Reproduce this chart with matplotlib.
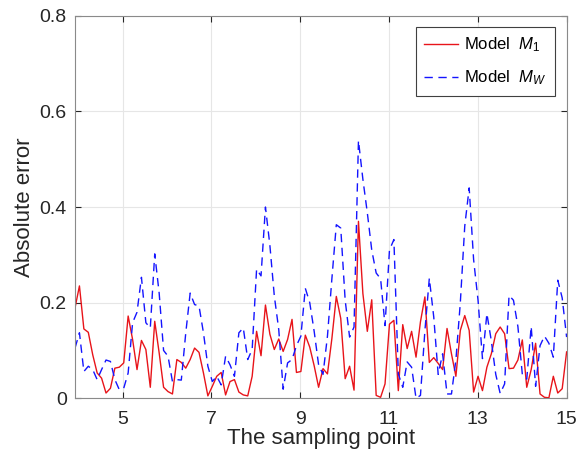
import numpy as np
import matplotlib
matplotlib.use("Agg")
import matplotlib.pyplot as plt

plt.rcParams['font.family'] = ['Liberation Sans', 'DejaVu Sans']
plt.rcParams['mathtext.fontset'] = 'custom'
plt.rcParams['mathtext.rm'] = 'Liberation Sans'
plt.rcParams['mathtext.it'] = 'Liberation Sans:italic'

# sampling points run from about 3.93 up to 15
x_first = 3.93
x_last = 15.0

err_m1 = [0.189, 0.235, 0.145, 0.138, 0.091, 0.053, 0.042, 0.011, 0.021, 0.063,
          0.065, 0.074, 0.172, 0.123, 0.060, 0.121, 0.102, 0.023, 0.161, 0.095,
          0.023, 0.014, 0.009, 0.081, 0.075, 0.063, 0.081, 0.105, 0.096, 0.053,
          0.005, 0.025, 0.046, 0.054, 0.007, 0.035, 0.039, 0.013, 0.007, 0.005,
          0.046, 0.140, 0.089, 0.195, 0.134, 0.102, 0.124, 0.098, 0.123, 0.165,
          0.054, 0.056, 0.132, 0.107, 0.068, 0.023, 0.062, 0.051, 0.125, 0.213,
          0.167, 0.041, 0.067, 0.017, 0.370, 0.219, 0.140, 0.206, 0.006, 0.002,
          0.030, 0.155, 0.163, 0.016, 0.154, 0.104, 0.140, 0.086, 0.160, 0.212,
          0.075, 0.085, 0.073, 0.060, 0.146, 0.093, 0.046, 0.142, 0.173, 0.142,
          0.013, 0.046, 0.016, 0.065, 0.093, 0.135, 0.149, 0.135, 0.062, 0.063,
          0.080, 0.122, 0.023, 0.060, 0.115, 0.009, 0.002, 0.001, 0.046, 0.011,
          0.020, 0.097]

err_mw = [0.105, 0.137, 0.056, 0.067, 0.060, 0.039, 0.060, 0.080, 0.077, 0.039,
          0.018, 0.021, 0.053, 0.158, 0.180, 0.253, 0.158, 0.147, 0.302, 0.220,
          0.100, 0.088, 0.035, 0.039, 0.038, 0.136, 0.220, 0.196, 0.193, 0.137,
          0.067, 0.035, 0.046, 0.028, 0.088, 0.070, 0.046, 0.137, 0.147, 0.081,
          0.102, 0.270, 0.256, 0.400, 0.320, 0.214, 0.144, 0.019, 0.074, 0.081,
          0.110, 0.130, 0.230, 0.200, 0.140, 0.070, 0.050, 0.130, 0.250, 0.363,
          0.356, 0.205, 0.128, 0.149, 0.539, 0.458, 0.388, 0.310, 0.262, 0.250,
          0.152, 0.310, 0.332, 0.051, 0.023, 0.076, 0.065, 0.000, 0.006, 0.141,
          0.251, 0.170, 0.050, 0.093, 0.009, 0.009, 0.080, 0.200, 0.360, 0.440,
          0.290, 0.205, 0.083, 0.177, 0.120, 0.050, 0.010, 0.030, 0.215, 0.205,
          0.150, 0.050, 0.040, 0.150, 0.025, 0.110, 0.130, 0.115, 0.086, 0.247,
          0.210, 0.128]

x_ticks = [5, 7, 9, 11, 13, 15]
y_ticks = [0, 0.2, 0.4, 0.6, 0.8]
y_tick_labels = ['0', '0.2', '0.4', '0.6', '0.8']

x = np.linspace(x_first, x_last, len(err_m1))

fig = plt.figure(figsize=(5.77, 4.57), dpi=100)
ax = fig.add_axes([0.13, 0.1285, 0.852, 0.837])

ax.plot(x, err_m1, color='#e8141a', lw=1.0, label=r'Model  $\mathit{M}_{\mathit{1}}$')
ax.plot(x, err_mw, color='#1414ff', lw=1.0, dashes=(6, 4), label=r'Model  $\mathit{M}_{\mathit{W}}$')

ax.set_xlim(x_first, x_last)
ax.set_ylim(0, 0.8)
ax.set_xticks(x_ticks)
ax.set_yticks(y_ticks)
ax.set_yticklabels(y_tick_labels)
ax.grid(True, color='#e6e6e6', lw=0.8)
ax.set_axisbelow(True)
ax.tick_params(direction='in', top=True, right=True, labelsize=14,
               colors='#262626', length=4, width=0.8)
ax.tick_params(axis='x', pad=9)
ax.tick_params(axis='y', pad=6)
for s in ax.spines.values():
    s.set_color('#8a8a8a')
    s.set_linewidth(0.8)

ax.set_xlabel('The sampling point', fontsize=16, color='#262626', labelpad=0)
ax.set_ylabel('Absolute error', fontsize=16, color='#262626', labelpad=3)

leg = ax.legend(loc='upper right', fontsize=12, fancybox=False, framealpha=1,
                edgecolor='#404040', handlelength=2.0, borderaxespad=0.7,
                labelspacing=0.85, handletextpad=0.4, borderpad=0.5)
leg.get_frame().set_linewidth(0.8)

fig.savefig('out.png', dpi=100)
